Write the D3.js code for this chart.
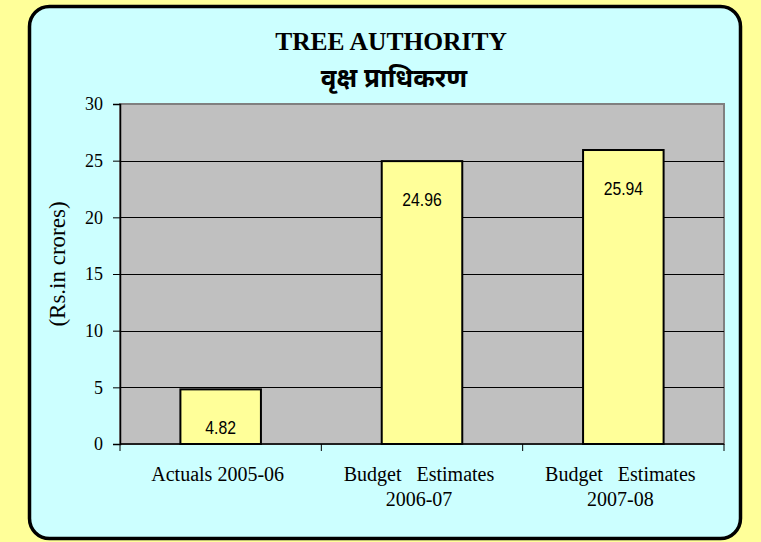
<!DOCTYPE html>
<html>
<head>
<meta charset="utf-8">
<script src="https://cdn.jsdelivr.net/npm/d3@7"></script>
<style>
  body { margin: 0; background: #FFFF99; }
</style>
</head>
<body>
<div id="chart"></div>
<script>
/* Tree Authority bar chart */

const categories = ["Actuals 2005-06", "Budget   Estimates|2006-07", "Budget   Estimates|2007-08"];
const values = [4.82, 24.96, 25.94];
const yTicks = [0, 5, 10, 15, 20, 25, 30];

const width = 761,
      height = 542,
      margin = ({ top: 104, right: 37, bottom: 98, left: 120 });

let svg = d3.select("#chart")
    .append("svg")
    .attr("width", width)
    .attr("height", height);

// page + rounded panel
svg.append("rect").attr("width", width).attr("height", height).attr("fill", "#FFFF99");
svg.append("rect")
    .attr("x", 29.5).attr("y", 6.5)
    .attr("width", 711).attr("height", 532)
    .attr("rx", 20)
    .attr("fill", "#CCFFFF")
    .attr("stroke", "black")
    .attr("stroke-width", 3.5);

let x = d3.scaleBand()
    .domain(categories)
    .range([margin.left, width - margin.right])
    .paddingInner(0.6)
    .paddingOuter(0.3);

let y = d3.scaleLinear()
    .domain([0, 30])
    .range([height - margin.bottom, margin.top]);

// plot area
svg.append("rect")
    .attr("x", margin.left).attr("y", y(30))
    .attr("width", width - margin.right - margin.left)
    .attr("height", y(0) - y(30))
    .attr("fill", "#C0C0C0")
    .attr("stroke", "#808080")
    .attr("stroke-width", 2);

// gridlines
svg.append("g")
    .selectAll("line")
    .data(yTicks.filter(d => d > 0 && d < 30))
    .join("line")
    .attr("x1", margin.left).attr("x2", width - margin.right)
    .attr("y1", d => Math.round(y(d)) + 0.5).attr("y2", d => Math.round(y(d)) + 0.5)
    .attr("stroke", "black");

// bars
let bar = svg.selectAll(".bar")
    .data(categories.map((c, i) => ({ cat: c, value: values[i] })))
    .join("g")
    .attr("class", "bar");

bar.append("rect")
    .attr("x", d => x(d.cat))
    .attr("width", x.bandwidth())
    .attr("y", d => y(d.value))
    .attr("height", d => y(0) - y(d.value))
    .attr("fill", "#FFFF99")
    .attr("stroke", "black")
    .attr("stroke-width", 2);

// value labels, squeezed to look like a narrow font
bar.append("text")
    .text(d => d.value.toFixed(2))
    .attr("transform", d => `translate(${x(d.cat) + x.bandwidth() / 2},${y(d.value) + 40}) scale(0.83,1)`)
    .attr("text-anchor", "middle")
    .attr("dominant-baseline", "middle")
    .style("font-family", "'Liberation Sans', Arial, sans-serif")
    .style("font-size", "19px");

// y axis
let yAxis = svg.append("g")
    .attr("transform", `translate(${margin.left},0)`)
    .call(d3.axisLeft(y).tickValues(yTicks).tickSize(7).tickPadding(10));
yAxis.selectAll("text")
    .style("font-family", "'Liberation Serif', 'Times New Roman', serif")
    .style("font-size", "18px")
    .attr("fill", "black");
yAxis.select(".domain").attr("stroke-width", 1.5);

// x axis with ticks on band boundaries
let step = x.step();
let bounds = d3.range(categories.length + 1).map(i => margin.left + i * step);
svg.append("line")
    .attr("x1", margin.left).attr("x2", width - margin.right)
    .attr("y1", y(0)).attr("y2", y(0))
    .attr("stroke", "black").attr("stroke-width", 1.5);
svg.append("g")
    .selectAll("line")
    .data(bounds)
    .join("line")
    .attr("x1", d => d).attr("x2", d => d)
    .attr("y1", y(0)).attr("y2", y(0) + 7)
    .attr("stroke", "black");

let xLab = svg.append("g")
    .selectAll("text")
    .data(categories)
    .join("text")
    .attr("x", d => x(d) + x.bandwidth() / 2 - 3)
    .attr("y", y(0) + 37)
    .attr("text-anchor", "middle")
    .style("font-family", "'Liberation Serif', 'Times New Roman', serif")
    .style("font-size", "20px")
    .style("white-space", "pre");
xLab.selectAll("tspan")
    .data(d => d.split("|"))
    .join("tspan")
    .attr("x", function () { return d3.select(this.parentNode).attr("x"); })
    .attr("dy", (d, i) => i === 0 ? 0 : 25)
    .text(d => d);

// y title
svg.append("text")
    .attr("transform", `translate(65,${(y(0) + y(30)) / 2 - 10}) rotate(-90)`)
    .attr("text-anchor", "middle")
    .style("font-family", "'Liberation Serif', 'Times New Roman', serif")
    .style("font-size", "23px")
    .text("(Rs.in crores)");

// titles
svg.append("text")
    .attr("x", 391).attr("y", 50)
    .attr("text-anchor", "middle")
    .style("font-family", "'Liberation Serif', 'Times New Roman', serif")
    .style("font-weight", "bold")
    .style("font-size", "25.5px")
    .text("TREE AUTHORITY");

svg.append("text")
    .attr("x", 394).attr("y", 87)
    .attr("text-anchor", "middle")
    .style("font-family", "'Noto Sans', 'Noto Sans Devanagari', sans-serif")
    .style("font-weight", "bold")
    .style("font-size", "26px")
    .text("वृक्ष प्राधिकरण");
</script>
</body>
</html>
